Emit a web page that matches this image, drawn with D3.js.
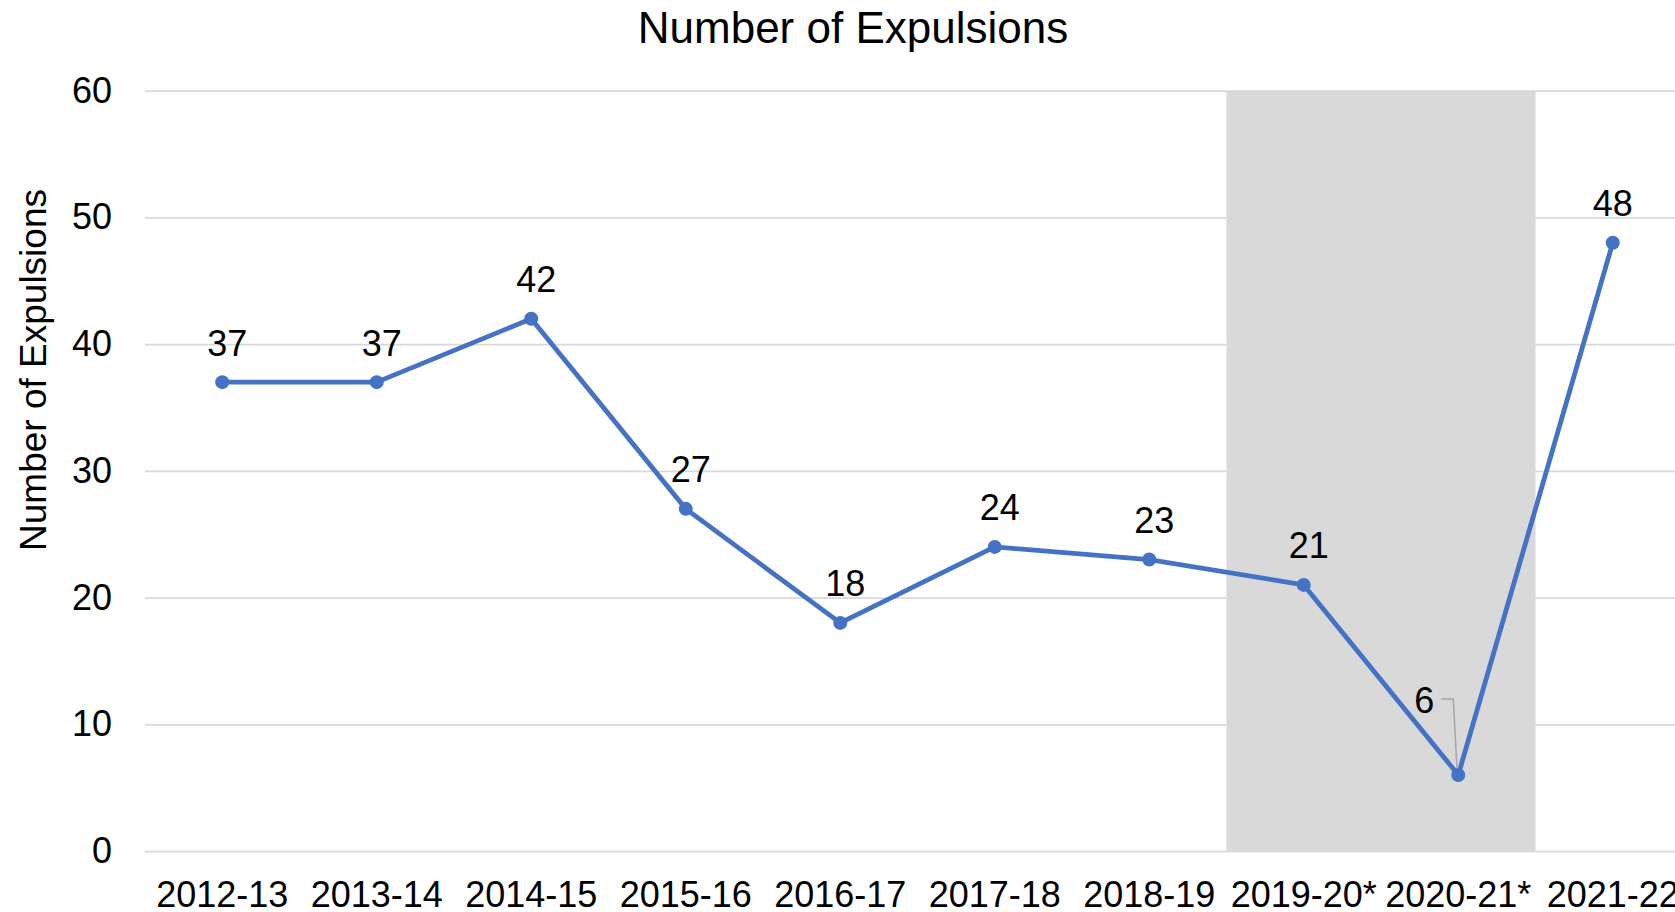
<!DOCTYPE html>
<html>
<head>
<meta charset="utf-8">
<script src="https://cdn.jsdelivr.net/npm/d3@7"></script>
<style>
  body { margin: 0; background: #fff; }
  text { font-family: "Liberation Sans", Arial, sans-serif; fill: #000; }
</style>
</head>
<body>
<div id="container"></div>
<script>
/* DATA */
const years = ["2012-13", "2013-14", "2014-15", "2015-16", "2016-17", "2017-18", "2018-19", "2019-20*", "2020-21*", "2021-22"];
const expulsions = [37, 37, 42, 27, 18, 24, 23, 21, 6, 48];
const yTicks = [0, 10, 20, 30, 40, 50, 60];
const shadedYears = ["2019-20*", "2020-21*"];

/* CONSTANTS */
const width = 1675,
  height = 912,
  margin = {top: 90.7, bottom: 61, left: 145, right: -15};

const data = years.map((d, i) => ({year: d, value: expulsions[i]}));

// SCALES
const xScale = d3.scaleBand()
  .domain(years)
  .range([margin.left, width - margin.right])
  .padding(0)

const yScale = d3.scaleLinear()
  .domain([0, 60])
  .range([height - margin.bottom, margin.top])

// CREATE SVG ELEMENT
const svg = d3.select("#container")
  .append("svg")
  .attr("width", width)
  .attr("height", height)

// GRIDLINES + Y AXIS
const yAxis = d3.axisLeft(yScale)
  .tickValues(yTicks)
  .tickSize(-(width - margin.right - margin.left))
  .tickPadding(33)

const yAxisGroup = svg.append("g")
  .attr("class", "yAxis")
  .attr("transform", `translate(${margin.left}, 0)`)
  .call(yAxis)

yAxisGroup.select(".domain").remove()
yAxisGroup.selectAll("line")
  .attr("stroke", "#d9d9d9")
  .attr("stroke-width", 1.75)
yAxisGroup.selectAll("text")
  .attr("font-size", 36)
  .attr("fill", "#000")

// SHADED PERIOD
const x0 = xScale(shadedYears[0]),
  x1 = xScale(shadedYears[shadedYears.length - 1]) + xScale.bandwidth()
svg.append("rect")
  .attr("x", x0)
  .attr("y", yScale(60))
  .attr("width", x1 - x0)
  .attr("height", yScale(0) - yScale(60))
  .attr("fill", "#d9d9d9")

// X AXIS
const xAxis = d3.axisBottom(xScale)
  .tickSize(0)
  .tickPadding(30)

const xAxisGroup = svg.append("g")
  .attr("class", "xAxis")
  .attr("transform", `translate(0, ${yScale(0)})`)
  .call(xAxis)

xAxisGroup.select(".domain").remove()
xAxisGroup.selectAll("text")
  .attr("font-size", 36)
  .attr("fill", "#000")

// TITLES
svg.append("text")
  .attr("x", 853)
  .attr("y", 43)
  .attr("text-anchor", "middle")
  .attr("font-size", 44)
  .text("Number of Expulsions")

svg.append("text")
  .attr("transform", `translate(${46}, ${370}) rotate(-90)`)
  .attr("text-anchor", "middle")
  .attr("font-size", 37)
  .text("Number of Expulsions")

// LINE
const cx = d => xScale(d.year) + xScale.bandwidth() / 2

const lineGen = d3.line()
  .x(cx)
  .y(d => yScale(d.value))

svg.append("path")
  .datum(data)
  .attr("fill", "none")
  .attr("stroke", "#4472c4")
  .attr("stroke-width", 4.8)
  .attr("stroke-linejoin", "round")
  .attr("d", lineGen)

// labels that don't sit in the default spot
const moved = {
  "2020-21*": {dx: -34, dy: -62, leader: true},
  "2021-22": {dx: 0, dy: -27}
}

Object.keys(moved).filter(k => moved[k].leader).forEach(k => {
  const d = data.find(e => e.year === k)
  const px = cx(d), py = yScale(d.value)
  svg.append("path")
    .attr("fill", "none")
    .attr("stroke", "#a6a6a6")
    .attr("stroke-width", 1.5)
    .attr("d", `M${px - 17},${py - 76}H${px - 5}L${px - 1},${py - 2}`)
})

svg.selectAll(".dot")
  .data(data)
  .join("circle")
  .attr("class", "dot")
  .attr("cx", cx)
  .attr("cy", d => yScale(d.value))
  .attr("r", 7)
  .attr("fill", "#4472c4")

// DATA LABELS
svg.selectAll(".label")
  .data(data)
  .join("text")
  .attr("class", "label")
  .attr("x", d => cx(d) + (moved[d.year] ? moved[d.year].dx : 5))
  .attr("y", d => yScale(d.value) + (moved[d.year] ? moved[d.year].dy : -26.5))
  .attr("text-anchor", "middle")
  .attr("font-size", 36)
  .text(d => d.value)
</script>
</body>
</html>
